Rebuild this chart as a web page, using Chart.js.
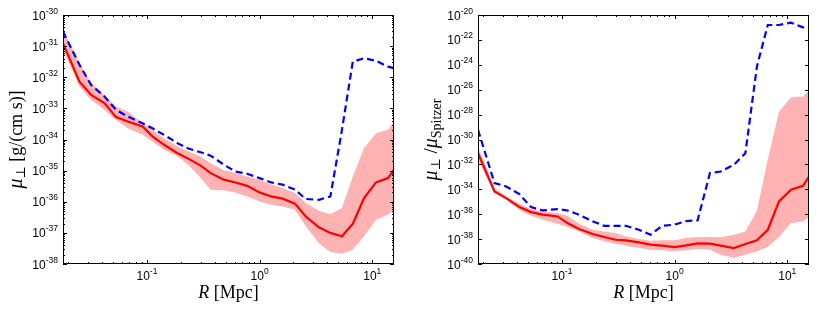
<!doctype html>
<html>
<head>
<meta charset="utf-8">
<title>mu perp vs R</title>
<script src="https://cdn.jsdelivr.net/npm/chart.js@4.4.1/dist/chart.umd.min.js"></script>
<style>
 body{margin:0;background:#fff}
 .row{display:flex;width:830px;height:312px}
 canvas{display:block}
</style>
</head>
<body>
<div class="row">
<canvas id="left" width="415" height="312"></canvas>
<canvas id="right" width="415" height="312"></canvas>
</div>
<script>
/* ===== Daten ======================================================= */
// R [Mpc], gemeinsam fuer alle Kurven
const R = [0.018, 0.0252, 0.032, 0.042, 0.0532, 0.0675, 0.0916, 0.112, 0.142, 0.187,
           0.237, 0.300, 0.368, 0.482, 0.611, 0.776, 1.0, 1.27, 1.60, 2.06,
           2.57, 3.36, 4.25, 5.38, 6.72, 8.45, 10.8, 13.8, 15.6];

// linkes Panel: mu_perp [g/(cm s)]
const muRed  = [1.23e-31, 7.24e-33, 2.69e-33, 1.48e-33, 5.25e-34, 3.80e-34, 2.63e-34, 1.26e-34, 6.76e-35, 3.63e-35,
                2.34e-35, 1.45e-35, 8.32e-36, 5.13e-36, 4.17e-36, 3.24e-36, 2.0e-36, 1.48e-36, 1.26e-36, 8.71e-37,
                3.39e-37, 1.51e-37, 1.0e-37, 7.76e-38, 1.95e-37, 1.32e-36, 4.17e-36, 5.75e-36, 1.07e-35];
const muBlue = [2.95e-31, 2.51e-32, 5.62e-33, 2.40e-33, 8.91e-34, 5.50e-34, 3.31e-34, 2.29e-34, 1.41e-34, 7.59e-35,
                5.01e-35, 3.89e-35, 3.02e-35, 1.55e-35, 9.33e-36, 7.94e-36, 5.75e-36, 4.17e-36, 3.55e-36, 2.45e-36,
                1.23e-36, 1.15e-36, 1.48e-36, 2.0e-34, 3.16e-32, 4.07e-32, 3.39e-32, 2.19e-32, 1.95e-32];
const muUp   = [3.31e-31, 2.82e-32, 6.46e-33, 2.69e-33, 1.15e-33, 7.94e-34, 3.31e-34, 2.04e-34, 1.10e-34, 6.03e-35,
                4.07e-35, 2.82e-35, 1.74e-35, 1.02e-35, 8.32e-36, 6.46e-36, 5.13e-36, 3.55e-36, 2.75e-36, 1.91e-36,
                9.12e-37, 5.13e-37, 3.98e-37, 6.31e-37, 6.46e-36, 5.25e-35, 1.58e-34, 2.04e-34, 3.80e-34];
const muLo   = [7.59e-32, 5.01e-33, 1.86e-33, 8.91e-34, 4.27e-34, 2.29e-34, 1.41e-34, 8.51e-35, 4.68e-35, 2.82e-35,
                1.45e-35, 5.75e-36, 2.45e-36, 2.34e-36, 2.0e-36, 1.48e-36, 1.02e-36, 7.94e-37, 7.08e-37, 5.50e-37,
                1.62e-37, 4.68e-38, 2.45e-38, 2.14e-38, 2.88e-38, 7.76e-38, 2.63e-37, 3.80e-37, 5.50e-37];

// rechtes Panel: mu_perp / mu_Spitzer
const ratRed  = [7.94e-32, 6.76e-35, 1.95e-35, 3.72e-36, 1.48e-36, 9.12e-37, 6.61e-37, 1.95e-37, 6.46e-38, 2.57e-38,
                 1.48e-38, 8.91e-39, 7.94e-39, 5.50e-39, 3.55e-39, 2.95e-39, 2.29e-39, 3.16e-39, 4.57e-39, 4.27e-39,
                 2.95e-39, 1.91e-39, 3.98e-39, 7.94e-39, 5.62e-38, 1.07e-35, 9.12e-35, 1.91e-34, 1.07e-33];
const ratBlue = [6.03e-30, 3.16e-34, 1.70e-34, 4.07e-35, 3.72e-36, 2.0e-36, 2.57e-36, 2.0e-36, 9.12e-37, 2.69e-37,
                 1.17e-37, 1.17e-37, 1.17e-37, 5.62e-38, 2.24e-38, 1.17e-37, 1.45e-37, 2.82e-37, 3.16e-37, 2.0e-33,
                 2.69e-33, 9.33e-33, 7.94e-32, 7.24e-25, 1.58e-21, 1.58e-21, 2.45e-21, 1.02e-21, 8.51e-22];
const ratUp   = [2.75e-31, 1.26e-34, 2.69e-35, 6.92e-36, 2.57e-36, 1.66e-36, 1.23e-36, 7.59e-37, 1.74e-37, 5.62e-38,
                 4.17e-38, 3.09e-38, 1.66e-38, 1.02e-38, 7.41e-39, 7.94e-39, 7.94e-39, 1.23e-38, 1.48e-38, 1.48e-38,
                 1.38e-38, 2.24e-38, 4.17e-38, 1.91e-36, 2.63e-32, 1.66e-28, 2.51e-27, 2.82e-27, 8.51e-27];
const ratLo   = [2.34e-32, 5.01e-35, 1.45e-35, 2.29e-36, 7.59e-37, 3.63e-37, 1.74e-37, 9.33e-38, 4.17e-38, 1.23e-38,
                 6.61e-39, 4.27e-39, 2.95e-39, 1.91e-39, 1.41e-39, 1.26e-39, 1.05e-39, 1.26e-39, 1.58e-39, 1.41e-39,
                 5.62e-40, 3.02e-40, 5.62e-40, 1.05e-39, 2.29e-39, 1.48e-38, 1.95e-37, 2.63e-37, 5.89e-37];

// Achsen
const X_MIN = 0.018, X_MAX = 15.6;
const xLabelExp = [-1, 0, 1];
const leftLabelExp  = [-30, -31, -32, -33, -34, -35, -36, -37, -38];
const rightLabelExp = [-20, -22, -24, -26, -28, -30, -32, -34, -36, -38, -40];

/* ===== Hilfsfunktionen ============================================= */
const SANS = '"Liberation Sans", Arial, sans-serif';
const SERIF = '"Liberation Serif", "DejaVu Serif", serif';

function rich(ctx, parts, x, y, align, rot){
  ctx.save();
  ctx.translate(x, y);
  if(rot) ctx.rotate(-Math.PI/2);
  let w = 0;
  parts.forEach(p=>{ctx.font = p.f; p.w = ctx.measureText(p.t).width; w += p.w;});
  let xx = align==='right' ? -w : -w/2;
  ctx.textAlign = 'left'; ctx.textBaseline = 'alphabetic'; ctx.fillStyle = '#000';
  parts.forEach(p=>{ctx.font = p.f; ctx.fillText(p.t, xx, p.dy||0); xx += p.w;});
  ctx.restore();
}
function pow10(e){
  return [{t:'10', f:'12px '+SANS}, {t:String(e), f:'8.5px '+SANS, dy:-6}];
}

// Rahmen, Ticks nach innen, Beschriftung
const deco = {
  id:'deco',
  afterDraw(chart, args, o){
    const {ctx, chartArea:a, scales:{x, y}} = chart;
    ctx.save();
    ctx.strokeStyle = '#000'; ctx.lineWidth = 1;
    const seg = (x1,y1,x2,y2)=>{ctx.beginPath(); ctx.moveTo(x1,y1); ctx.lineTo(x2,y2); ctx.stroke();};
    // x ticks
    for(let k=-2;k<=1;k++) for(let m=1;m<=9;m++){
      const v = m*Math.pow(10,k);
      if(v < X_MIN || v > X_MAX) continue;
      const px = Math.round(x.getPixelForValue(v)) + 0.5, len = m===1 ? 4 : 2;
      seg(px, a.bottom, px, a.bottom-len); seg(px, a.top, px, a.top+len);
    }
    // y ticks
    o.majors.forEach(e=>{
      const py = Math.round(y.getPixelForValue(Math.pow(10,e))) + 0.5;
      seg(a.left, py, a.left+4, py); seg(a.right, py, a.right-4, py);
      if(o.minor) for(let m=2;m<=9;m++){
        const v = m*Math.pow(10,e);
        if(v > y.max) continue;
        const q = Math.round(y.getPixelForValue(v)) + 0.5;
        seg(a.left, q, a.left+2, q); seg(a.right, q, a.right-2, q);
      }
    });
    ctx.strokeRect(a.left+0.5, a.top+0.5, a.right-a.left-1, a.bottom-a.top-1);
    ctx.restore();
    // labels
    xLabelExp.forEach(e=>rich(ctx, pow10(e), x.getPixelForValue(Math.pow(10,e)), a.bottom+16, 'center'));
    o.majors.forEach(e=>rich(ctx, pow10(e), a.left-5, y.getPixelForValue(Math.pow(10,e))+4.5, 'right'));
    rich(ctx, [{t:'R', f:'italic 18px '+SERIF}, {t:' [Mpc]', f:'18px '+SERIF}],
         (a.left+a.right)/2, 298, 'center');
    rich(ctx, o.title, 22, (a.top+a.bottom)/2, 'center', true);
  }
};

function pts(v){ return R.map((r,i)=>({x:r, y:v[i]})); }

function makeChart(id, up, lo, red, blue, yMin, yMax, deco_opts){
  return new Chart(document.getElementById(id), {
    type:'line',
    data:{datasets:[
      {data:pts(up), fill:'+1', backgroundColor:'rgba(255,0,0,0.3)', borderColor:'transparent', borderWidth:0, pointRadius:0, order:3},
      {data:pts(lo), fill:false, borderColor:'transparent', borderWidth:0, pointRadius:0, order:3},
      {data:pts(blue), borderColor:'#0000ff', borderWidth:2.2, borderDash:[7,4], pointRadius:0, fill:false, order:2},
      {data:pts(red), borderColor:'#ff0000', borderWidth:2.2, pointRadius:0, fill:false, order:1}
    ]},
    options:{
      responsive:false, animation:false, devicePixelRatio:1,
      layout:{padding:{left:0, right:21, top:15, bottom:0}},
      plugins:{legend:{display:false}, tooltip:{enabled:false}, deco:deco_opts},
      scales:{
        x:{type:'logarithmic', min:X_MIN, max:X_MAX, ticks:{display:false}, grid:{display:false}, border:{display:false},
           afterFit:s=>{s.height = 48;}},
        y:{type:'logarithmic', min:yMin, max:yMax, ticks:{display:false}, grid:{display:false}, border:{display:false},
           afterFit:s=>{s.width = 63;}}
      }
    },
    plugins:[deco]
  });
}

makeChart('left', muUp, muLo, muRed, muBlue, 1e-38, 1e-30, {
  majors:leftLabelExp, minor:true,
  title:[{t:'μ', f:'italic 20px '+SERIF}, {t:'⊥', f:'13px '+SERIF, dy:3}, {t:' [g/(cm s)]', f:'18px '+SERIF}]
});
makeChart('right', ratUp, ratLo, ratRed, ratBlue, 1e-40, 1e-20, {
  majors:rightLabelExp, minor:false,
  title:[{t:'μ', f:'italic 20px '+SERIF}, {t:'⊥', f:'13px '+SERIF, dy:3}, {t:' /', f:'19px '+SERIF},
         {t:'μ', f:'italic 20px '+SERIF}, {t:'Spitzer', f:'14px '+SERIF, dy:4}]
});
</script>
</body>
</html>
